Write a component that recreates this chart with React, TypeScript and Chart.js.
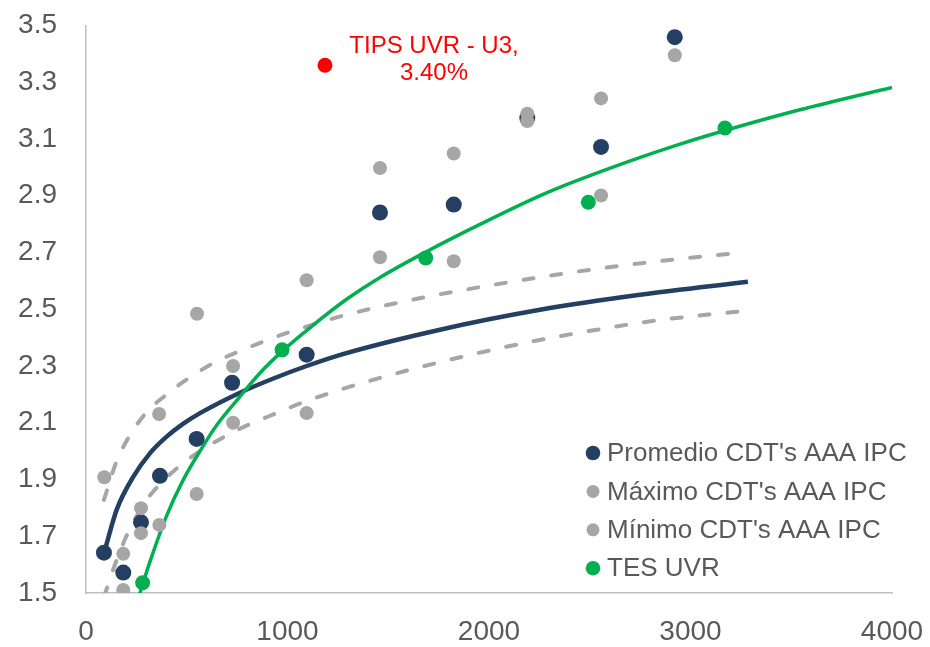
import React, { useEffect, useRef } from "react";
import { Chart, registerables } from "chart.js";

Chart.register(...registerables);

// Axis ticks
const xTicks = [0, 1000, 2000, 3000, 4000];
const yTicks = [1.5, 1.7, 1.9, 2.1, 2.3, 2.5, 2.7, 2.9, 3.1, 3.3, 3.5];

// Series (days to maturity, rate %)
const promedioX = [89, 185, 273, 367, 549, 725, 1095, 1459, 1825, 2190, 2556, 2922];
const promedioY = [1.642, 1.572, 1.749, 1.913, 2.043, 2.241, 2.34, 2.841, 2.869, 3.174, 3.072, 3.459];

const maximoX = [91, 185, 273, 363, 551, 730, 1095, 1459, 1825, 2190, 2556, 2922];
const maximoY = [1.908, 1.638, 1.799, 2.131, 2.484, 2.3, 2.602, 2.998, 3.049, 3.189, 3.243, 3.395];

const minimoX = [185, 273, 364, 549, 730, 1095, 1459, 1825, 2190, 2556];
const minimoY = [1.511, 1.711, 1.74, 1.849, 2.1, 2.134, 2.683, 2.669, 3.163, 2.901];

const tesX = [281, 973, 1686, 2493, 3171];
const tesY = [1.536, 2.357, 2.681, 2.877, 3.139];

const tipsX = [1186];
const tipsY = [3.36];
const tipsLabel = ["TIPS UVR - U3,", "3.40%"];

// Trend lines
const trendPromX = [94, 152, 235, 318, 400, 483, 566, 764, 930, 1095, 1275, 1757, 2253, 2749, 3285];
const trendPromY = [1.652, 1.793, 1.91, 1.993, 2.051, 2.097, 2.134, 2.206, 2.256, 2.3, 2.342, 2.428, 2.498, 2.551, 2.597];

const trendMaxX = [89, 149, 213, 298, 397, 511, 645, 779, 928, 1077, 1295, 1623, 2020, 2501, 2913, 3246];
const trendMaxY = [1.828, 1.959, 2.05, 2.135, 2.198, 2.258, 2.315, 2.357, 2.399, 2.435, 2.481, 2.534, 2.586, 2.639, 2.675, 2.699];

const trendMinX = [89, 149, 208, 303, 380, 452, 566, 685, 809, 943, 1077, 1226, 1360, 1658, 1955, 2238, 2536, 2814, 3112, 3246];
const trendMinY = [1.486, 1.61, 1.712, 1.83, 1.893, 1.94, 2.0, 2.05, 2.094, 2.133, 2.172, 2.208, 2.238, 2.296, 2.347, 2.39, 2.428, 2.459, 2.483, 2.492];

const trendTesX = [253, 283, 320, 400, 480, 561, 645, 759, 859, 978, 1127, 1295, 1459, 1687, 1955, 2288, 2615, 2948, 3171, 3543, 4000];
const trendTesY = [1.465, 1.535, 1.616, 1.772, 1.895, 1.995, 2.088, 2.188, 2.272, 2.355, 2.444, 2.536, 2.612, 2.702, 2.799, 2.911, 3.001, 3.082, 3.13, 3.203, 3.282];

const legendOrder = [0, 1, 2, 3];

const NAVY = "#243F62";
const GRAY = "#A6A6A6";
const GREEN = "#00B050";
const RED = "#FF0000";
const TEXT = "#595959";
const FONT = '"Liberation Sans", Arial, sans-serif';

const zip = (xs: number[], ys: number[]) => xs.map((x, i) => ({ x, y: ys[i] }));

const legendPlugin = {
  id: "insideLegend",
  afterDatasetsDraw(chart: any) {
    const { ctx, chartArea } = chart;
    ctx.save();
    ctx.font = `26px ${FONT}`;
    ctx.textBaseline = "middle";
    ctx.textAlign = "left";
    legendOrder.forEach((idx, i) => {
      const ds = chart.data.datasets[idx];
      const x = chartArea.right - 299;
      const y = chartArea.bottom - 140 + i * 38.4;
      ctx.beginPath();
      ctx.arc(x, y, ds.legendRadius, 0, Math.PI * 2);
      ctx.fillStyle = ds.backgroundColor;
      ctx.fill();
      ctx.fillStyle = TEXT;
      ctx.fillText(ds.label, x + 14, y + 1);
    });
    ctx.restore();
  },
};

const tipsLabelPlugin = {
  id: "tipsLabel",
  afterDatasetsDraw(chart: any) {
    const { ctx, scales } = chart;
    const px = scales.x.getPixelForValue(tipsX[0]);
    const py = scales.y.getPixelForValue(tipsY[0]);
    ctx.save();
    ctx.font = `24px ${FONT}`;
    ctx.fillStyle = RED;
    ctx.textAlign = "center";
    ctx.textBaseline = "middle";
    ctx.fillText(tipsLabel[0], px + 109, py - 19);
    ctx.fillText(tipsLabel[1], px + 109, py + 8);
    ctx.restore();
  },
};

const zeroPad = (s: any) => {
  s.paddingTop = 0;
  s.paddingBottom = 0;
  s.paddingLeft = 0;
  s.paddingRight = 0;
};

export default function App() {
  const ref = useRef<HTMLCanvasElement | null>(null);

  useEffect(() => {
    if (!ref.current) return;
    const lineDs = (label: string, xs: number[], ys: number[], color: string, width: number, dash: number[], order: number) => ({
      type: "line" as const,
      label,
      data: zip(xs, ys),
      borderColor: color,
      backgroundColor: color,
      borderWidth: width,
      borderDash: dash,
      borderCapStyle: dash.length ? "round" : "butt",
      pointRadius: 0,
      pointHoverRadius: 0,
      showLine: true,
      fill: false,
      cubicInterpolationMode: "monotone" as const,
      order,
    });

    const chart = new Chart(ref.current, {
      type: "scatter",
      data: {
        datasets: [
          {
            label: "Promedio CDT's AAA IPC",
            data: zip(promedioX, promedioY),
            backgroundColor: NAVY,
            borderColor: NAVY,
            pointRadius: 8,
            borderWidth: 0,
            order: 3,
            legendRadius: 7.3,
          } as any,
          {
            label: "Máximo CDT's AAA IPC",
            data: zip(maximoX, maximoY),
            backgroundColor: GRAY,
            borderColor: GRAY,
            pointRadius: 7,
            borderWidth: 0,
            order: 2,
            legendRadius: 6.5,
          } as any,
          {
            label: "Mínimo CDT's AAA IPC",
            data: zip(minimoX, minimoY),
            backgroundColor: GRAY,
            borderColor: GRAY,
            pointRadius: 7,
            borderWidth: 0,
            order: 1,
            legendRadius: 6.5,
          } as any,
          {
            label: "TES UVR",
            data: zip(tesX, tesY),
            backgroundColor: GREEN,
            borderColor: GREEN,
            pointRadius: 7.5,
            borderWidth: 0,
            order: 0,
            legendRadius: 7.3,
          } as any,
          {
            label: "TIPS UVR - U3",
            data: zip(tipsX, tipsY),
            backgroundColor: RED,
            borderColor: RED,
            pointRadius: 7.5,
            borderWidth: 0,
            order: 0,
          } as any,
          lineDs("Tendencia Promedio", trendPromX, trendPromY, NAVY, 4.5, [], 6) as any,
          lineDs("Tendencia Máximo", trendMaxX, trendMaxY, GRAY, 4, [10, 18], 7) as any,
          lineDs("Tendencia Mínimo", trendMinX, trendMinY, GRAY, 4, [10, 18], 7) as any,
          lineDs("Tendencia TES", trendTesX, trendTesY, GREEN, 3.5, [], 5) as any,
        ],
      },
      options: {
        responsive: false,
        animation: false,
        devicePixelRatio: 1,
        layout: { padding: { top: 25.5, right: 38, left: 0, bottom: 0 } },
        plugins: {
          legend: { display: false },
          tooltip: { enabled: false },
        },
        scales: {
          x: {
            type: "linear",
            min: 0,
            max: 4000,
            afterBuildTicks: (s: any) => {
              s.ticks = xTicks.map((v) => ({ value: v }));
            },
            afterFit: (s: any) => {
              s.height = 54;
              zeroPad(s);
            },
            grid: { display: false, drawTicks: false },
            border: { display: true, color: "#BFBFBF", width: 1.5 },
            ticks: {
              color: TEXT,
              font: { family: FONT, size: 28 },
              padding: 22,
              maxRotation: 0,
              autoSkip: false,
              callback: (v: any) => String(v),
            },
          },
          y: {
            type: "linear",
            min: 1.5,
            max: 3.5,
            afterBuildTicks: (s: any) => {
              s.ticks = yTicks.map((v) => ({ value: v }));
            },
            afterFit: (s: any) => {
              s.width = 86;
              zeroPad(s);
            },
            grid: { display: false, drawTicks: false },
            border: { display: true, color: "#BFBFBF", width: 1.5 },
            ticks: {
              color: TEXT,
              font: { family: FONT, size: 28 },
              padding: 29,
              autoSkip: false,
              callback: (v: any) => Number(v).toFixed(1),
            },
          },
        },
      },
      plugins: [legendPlugin, tipsLabelPlugin],
    } as any);

    return () => chart.destroy();
  }, []);

  return (
    <div style={{ position: "fixed", left: 0, top: 0, width: 930, height: 647, background: "#fff" }}>
      <canvas ref={ref} width={930} height={647} style={{ width: 930, height: 647, display: "block" }} />
    </div>
  );
}
